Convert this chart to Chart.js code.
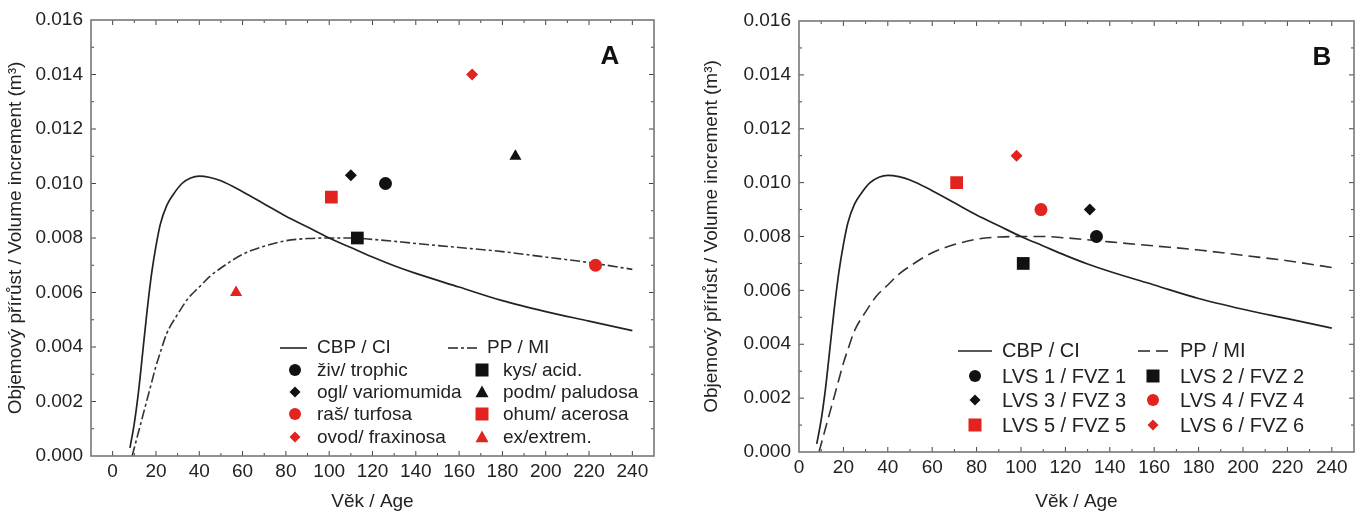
<!DOCTYPE html>
<html>
<head>
<meta charset="utf-8">
<script src="https://cdn.jsdelivr.net/npm/chart.js@4.4.1/dist/chart.umd.min.js"></script>
<style>
  body { margin: 0; background: #fff; }
  .wrap { position: absolute; top: 0; height: 515px; }
  #wrapA { left: 0; width: 680px; }
  #wrapB { left: 680px; width: 683px; }
</style>
</head>
<body>
<div class="wrap" id="wrapA"><canvas id="chartA"></canvas></div>
<div class="wrap" id="wrapB"><canvas id="chartB"></canvas></div>
<script>
// growth curves
const cbpAges = [8, 10, 12, 14, 16, 18, 20, 22, 25, 28, 32, 36, 40, 45, 50, 60, 70, 80, 90, 100, 110, 120, 130, 140, 160, 180, 200, 220, 240];
const cbpVals = [0.0003, 0.0012, 0.0024, 0.0039, 0.0054, 0.0067, 0.0077, 0.0085, 0.0092, 0.0096, 0.0100, 0.0102, 0.01027, 0.01022, 0.0101, 0.0097, 0.00925, 0.0088, 0.0084, 0.0080, 0.00765, 0.0073, 0.00698, 0.0067, 0.0062, 0.0057, 0.0053, 0.00495, 0.0046];
const ppAges = [9, 10, 12, 14, 16, 18, 20, 22, 25, 30, 35, 40, 45, 50, 60, 70, 80, 90, 100, 110, 120, 140, 160, 180, 200, 220, 240];
const ppVals = [0.0, 0.0003, 0.0009, 0.0015, 0.0021, 0.0027, 0.0033, 0.0038, 0.0045, 0.0052, 0.0058, 0.0062, 0.0066, 0.0069, 0.0074, 0.0077, 0.0079, 0.00798, 0.0080, 0.0080, 0.00795, 0.0078, 0.00765, 0.0075, 0.0073, 0.0071, 0.00685];

const xTicks = [0, 20, 40, 60, 80, 100, 120, 140, 160, 180, 200, 220, 240];
const yTicks = [0, 0.002, 0.004, 0.006, 0.008, 0.010, 0.012, 0.014, 0.016];

// panel A: forest site groups
const namesA = ["živ/ trophic", "kys/ acid.", "ogl/ variomumida", "podm/ paludosa", "raš/ turfosa", "ohum/ acerosa", "ovod/ fraxinosa", "ex/extrem."];
const agesA = [126, 113, 110, 186, 223, 101, 166, 57];
const valsA = [0.0100, 0.0080, 0.0103, 0.0110, 0.0070, 0.0095, 0.0140, 0.0060];

// panel B: forest vegetation zones
const namesB = ["LVS 1 / FVZ 1", "LVS 2 / FVZ 2", "LVS 3 / FVZ 3", "LVS 4 / FVZ 4", "LVS 5 / FVZ 5", "LVS 6 / FVZ 6"];
const agesB = [134, 101, 131, 109, 71, 98];
const valsB = [0.0080, 0.0070, 0.0090, 0.0090, 0.0100, 0.0110];

const RED = "#e2231e";
const BLACK = "#111";
const stylesA = [["circle", BLACK], ["rect", BLACK], ["rectRot", BLACK], ["triangle", BLACK],
                 ["circle", RED], ["rect", RED], ["rectRot", RED], ["triangle", RED]];
const stylesB = [["circle", BLACK], ["rect", BLACK], ["rectRot", BLACK], ["circle", RED], ["rect", RED], ["rectRot", RED]];
const sizes = { circle: 6.5, rect: 9, rectRot: 6, triangle: 7 };

Chart.defaults.font.family = '"Liberation Sans", Arial, sans-serif';
Chart.defaults.font.size = 19;
Chart.defaults.color = "#222";

function drawMarker(ctx, style, color, x, y, r) {
  ctx.fillStyle = color;
  ctx.beginPath();
  if (style === "circle") {
    ctx.arc(x, y, r, 0, Math.PI * 2);
  } else if (style === "rect") {
    ctx.rect(x - r, y - r, 2 * r, 2 * r);
  } else if (style === "rectRot") {
    ctx.moveTo(x, y - r); ctx.lineTo(x + r, y); ctx.lineTo(x, y + r); ctx.lineTo(x - r, y);
  } else {
    ctx.moveTo(x, y - r); ctx.lineTo(x + r, y + r * 0.8); ctx.lineTo(x - r, y + r * 0.8);
  }
  ctx.closePath();
  ctx.fill();
}

const framePlugin = {
  id: "frame",
  afterDraw(chart, args, opts) {
    const { ctx, chartArea: a, scales: { x, y } } = chart;
    ctx.save();
    // inward ticks
    ctx.strokeStyle = "#444";
    ctx.lineWidth = 1;
    for (let v = 0; v <= 250; v += 10) {
      const px = x.getPixelForValue(v);
      if (px <= a.left + 1 || px >= a.right - 1) continue;
      const len = v % 20 === 0 ? 5 : 3;
      ctx.beginPath();
      ctx.moveTo(px, a.bottom); ctx.lineTo(px, a.bottom - len);
      ctx.moveTo(px, a.top); ctx.lineTo(px, a.top + len);
      ctx.stroke();
    }
    for (let i = 1; i < 16; i++) {
      const py = y.getPixelForValue(i * 0.001);
      const len = i % 2 === 0 ? 5 : 3;
      ctx.beginPath();
      ctx.moveTo(a.left, py); ctx.lineTo(a.left + len, py);
      ctx.moveTo(a.right, py); ctx.lineTo(a.right - len, py);
      ctx.stroke();
    }
    // frame
    ctx.strokeStyle = "#777";
    ctx.lineWidth = 1.6;
    ctx.strokeRect(a.left, a.top, a.right - a.left, a.bottom - a.top);

    // panel letter
    ctx.fillStyle = "#111";
    ctx.font = 'bold 26px "Liberation Sans", Arial, sans-serif';
    ctx.textAlign = "center";
    ctx.textBaseline = "middle";
    ctx.fillText(opts.letter, opts.letterX, opts.letterY);

    // legend
    const L = opts.legend;
    ctx.font = L.fontSize + 'px "Liberation Sans", Arial, sans-serif';
    ctx.textAlign = "left";
    ctx.fillStyle = "#222";
    ctx.strokeStyle = "#222";
    ctx.lineWidth = 1.6;
    ctx.beginPath();
    ctx.moveTo(L.line1[0], L.rows[0]); ctx.lineTo(L.line1[1], L.rows[0]);
    ctx.stroke();
    ctx.setLineDash(opts.dash);
    ctx.beginPath();
    ctx.moveTo(L.line2[0], L.rows[0]); ctx.lineTo(L.line2[1], L.rows[0]);
    ctx.stroke();
    ctx.setLineDash([]);
    ctx.fillText("CBP / CI", L.text1, L.rows[0]);
    ctx.fillText("PP / MI", L.text2line, L.rows[0]);
    opts.names.forEach((n, i) => {
      const row = L.rows[1 + Math.floor(i / 2)];
      const col = i % 2;
      const st = opts.styles[i];
      const r = { circle: 6, rect: 6.5, rectRot: 5.5, triangle: 6.5 }[st[0]];
      drawMarker(ctx, st[0], st[1], col ? L.mark2 : L.mark1, row, r);
      ctx.fillStyle = "#222";
      ctx.fillText(n, col ? L.text2 : L.text1, row + 1);
    });
    ctx.restore();
  }
};

function makeChart(id, cfg) {
  const pointSets = cfg.names.map((n, i) => ({
    label: n,
    data: [{ x: cfg.ages[i], y: cfg.vals[i] }],
    showLine: false,
    pointStyle: cfg.styles[i][0],
    pointRadius: sizes[cfg.styles[i][0]],
    pointBackgroundColor: cfg.styles[i][1],
    pointBorderWidth: 0,
    order: 1
  }));
  const lineSets = [
    {
      label: "CBP / CI",
      data: cbpAges.map((a, i) => ({ x: a, y: cbpVals[i] })),
      showLine: true,
      borderColor: "#222",
      borderWidth: 1.7,
      pointRadius: 0,
      cubicInterpolationMode: "monotone",
      order: 2
    },
    {
      label: "PP / MI",
      data: ppAges.map((a, i) => ({ x: a, y: ppVals[i] })),
      showLine: true,
      borderColor: "#333",
      borderWidth: 1.6,
      borderDash: cfg.dash,
      pointRadius: 0,
      cubicInterpolationMode: "monotone",
      order: 2
    }
  ];

  return new Chart(document.getElementById(id), {
    type: "scatter",
    data: { datasets: [...pointSets, ...lineSets] },
    options: {
      responsive: true,
      maintainAspectRatio: false,
      animation: false,
      layout: { padding: cfg.padding },
      plugins: {
        legend: { display: false },
        tooltip: { enabled: false },
        frame: {
          letter: cfg.letter, letterX: cfg.letterX, letterY: cfg.letterY,
          legend: cfg.legend, names: cfg.names, styles: cfg.styles, dash: cfg.dash
        }
      },
      scales: {
        x: {
          type: "linear",
          min: cfg.xMin,
          max: 250,
          grid: { display: false, drawTicks: false, tickLength: 0 },
          border: { display: false },
          afterBuildTicks: (s) => { s.ticks = xTicks.map((v) => ({ value: v })); },
          afterFit: (s) => { s.height = cfg.xHeight; },
          ticks: { padding: 4, maxRotation: 0, autoSkip: false },
          title: { display: true, text: "Věk / Age", padding: { top: 0, bottom: 2 } }
        },
        y: {
          min: 0,
          max: 0.016,
          grid: { display: false, drawTicks: false, tickLength: 0 },
          border: { display: false },
          afterBuildTicks: (s) => { s.ticks = yTicks.map((v) => ({ value: v })); },
          afterFit: (s) => { s.width = cfg.yWidth; },
          ticks: { padding: 8, callback: (v) => Number(v).toFixed(3) },
          title: { display: true, text: "Objemový přírůst / Volume increment (m³)", padding: { top: cfg.yTitlePad, bottom: 0 } }
        }
      }
    },
    plugins: [framePlugin]
  });
}

makeChart("chartA", {
  names: namesA, ages: agesA, vals: valsA, styles: stylesA,
  dash: [10, 3, 3, 3],
  xMin: -10, xHeight: 59, yWidth: 91, yTitlePad: 4,
  padding: { top: 20, right: 26, bottom: 0, left: 0 },
  letter: "A", letterX: 610, letterY: 57,
  legend: { fontSize: 19, rows: [348, 370, 392, 414, 437], line1: [280, 307], line2: [448, 480],
            text1: 317, text2line: 487, text2: 503, mark1: 295, mark2: 482 }
});

makeChart("chartB", {
  names: namesB, ages: agesB, vals: valsB, styles: stylesB,
  dash: [12, 6],
  xMin: 0, xHeight: 63, yWidth: 119, yTitlePad: 20,
  padding: { top: 21, right: 8, bottom: 0, left: 0 },
  letter: "B", letterX: 642, letterY: 58,
  legend: { fontSize: 20, rows: [351, 376, 400, 425], line1: [278, 312], line2: [458, 490],
            text1: 322, text2line: 500, text2: 500, mark1: 295, mark2: 473 }
});
</script>
</body>
</html>
